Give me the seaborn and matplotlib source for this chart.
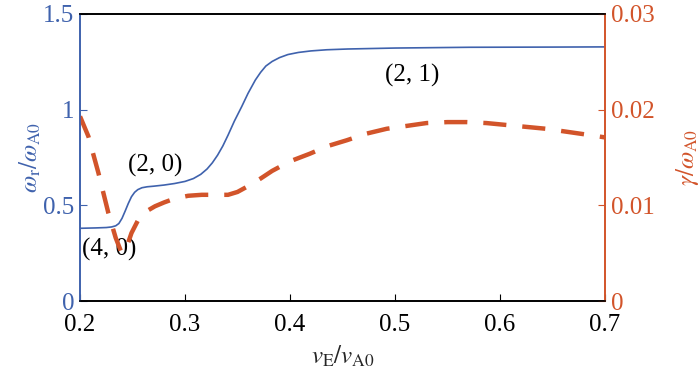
import numpy as np
import pandas as pd
import seaborn as sns
import matplotlib.pyplot as plt

# frequency of the mode (left axis)
vE_freq = [0.200, 0.215, 0.225, 0.230, 0.234, 0.237, 0.240, 0.243, 0.246, 0.249, 0.252,
           0.255, 0.259, 0.264, 0.270, 0.280, 0.290, 0.300, 0.308, 0.315, 0.321, 0.326,
           0.331, 0.336, 0.341, 0.347, 0.354, 0.360, 0.367, 0.372, 0.377, 0.383, 0.390,
           0.398, 0.408, 0.420, 0.435, 0.455, 0.500, 0.571, 0.650, 0.700]
omega_r = [0.380, 0.382, 0.384, 0.387, 0.393, 0.405, 0.432, 0.470, 0.510, 0.545, 0.568,
           0.582, 0.592, 0.597, 0.600, 0.606, 0.614, 0.625, 0.640, 0.662, 0.690, 0.722,
           0.762, 0.810, 0.867, 0.940, 1.016, 1.085, 1.155, 1.195, 1.228, 1.252, 1.272,
           1.288, 1.299, 1.307, 1.313, 1.317, 1.322, 1.326, 1.327, 1.328]

# growth rate (right axis)
vE_gamma = [0.200, 0.208, 0.2175, 0.227, 0.234, 0.2397, 0.244, 0.249, 0.2555, 0.262,
            0.2714, 0.280, 0.290, 0.303, 0.316, 0.330, 0.341, 0.350, 0.360, 0.372, 0.383,
            0.400, 0.419, 0.436, 0.454, 0.473, 0.492, 0.511, 0.530, 0.550, 0.568, 0.587,
            0.606, 0.625, 0.644, 0.663, 0.682, 0.700]
gamma = [0.0193, 0.0172, 0.0134, 0.0092, 0.0066, 0.0050, 0.0055, 0.0071, 0.0085, 0.0093,
         0.0099, 0.0103, 0.0107, 0.0110, 0.0111, 0.0111, 0.0111, 0.0114, 0.0120, 0.0128,
         0.0136, 0.0146, 0.0154, 0.0162, 0.0168, 0.0175, 0.0180, 0.0183, 0.0186, 0.0187,
         0.0187, 0.0186, 0.0184, 0.0182, 0.0180, 0.0177, 0.0174, 0.0171]

labels = ["(2, 0)", "(4, 0)", "(2, 1)"]
label_x = [0.2714, 0.2276, 0.5168]
label_y = [0.706, 0.272, 1.179]

blue = "#3f62ad"
orange = "#d2542a"

sns.set_style("ticks")
plt.rcParams["font.family"] = ["Liberation Serif", "DejaVu Serif"]
plt.rcParams["mathtext.fontset"] = "stix"
plt.rcParams["xtick.direction"] = "in"
plt.rcParams["ytick.direction"] = "in"

df_f = pd.DataFrame({"vE": vE_freq, "wr": omega_r})
df_g = pd.DataFrame({"vE": vE_gamma, "g": gamma})

fig, ax = plt.subplots(figsize=(7, 3.82), dpi=100)
fig.subplots_adjust(left=0.1143, right=0.8643, top=0.9634, bottom=0.212)
ax2 = ax.twinx()

sns.lineplot(data=df_f, x="vE", y="wr", ax=ax, color=blue, lw=1.2)
sns.lineplot(data=df_g, x="vE", y="g", ax=ax2, color=orange, lw=3.2,
             dashes=False)
ax2.lines[0].set_dashes([5.2, 3.6])

ax.set_xlim(0.2, 0.7)
ax.set_ylim(0, 1.5)
ax2.set_ylim(0, 0.03)
ax.set_xticks([0.2, 0.3, 0.4, 0.5, 0.6, 0.7])
ax.set_xticklabels(["0.2", "0.3", "0.4", "0.5", "0.6", "0.7"])
ax.set_yticks([0, 0.5, 1, 1.5])
ax.set_yticklabels(["0", "0.5", "1", "1.5"])
ax2.set_yticks([0, 0.01, 0.02, 0.03])
ax2.set_yticklabels(["0", "0.01", "0.02", "0.03"])

fs = 18
ax.tick_params(axis="x", labelsize=fs, length=5, width=0.8, colors="black", pad=9)
ax.tick_params(axis="y", labelsize=fs, length=5, width=0.8, colors=blue, pad=4)
ax2.tick_params(axis="y", labelsize=fs, length=5, width=0.8, colors=orange, pad=4)

for a in (ax, ax2):
    for s in a.spines.values():
        s.set_linewidth(1.2)
        s.set_visible(True)
    a.spines["top"].set_color("black")
    a.spines["bottom"].set_color("black")
    a.spines["left"].set_color(blue)
    a.spines["right"].set_color(orange)

ax.set_xlabel(r"$v_{\rm E}/v_{\rm A0}$", fontsize=fs, labelpad=6)
ax.set_ylabel(r"$\omega_{\rm r}/\omega_{\rm A0}$", fontsize=fs, color=blue, labelpad=0)
ax2.set_ylabel(r"$\gamma/\omega_{\rm A0}$", fontsize=fs, color=orange, labelpad=14)

for t, x, y in zip(labels, label_x, label_y):
    ax.text(x, y, t, fontsize=fs, ha="center", va="center", color="black")

fig.savefig("out.png", dpi=100)
